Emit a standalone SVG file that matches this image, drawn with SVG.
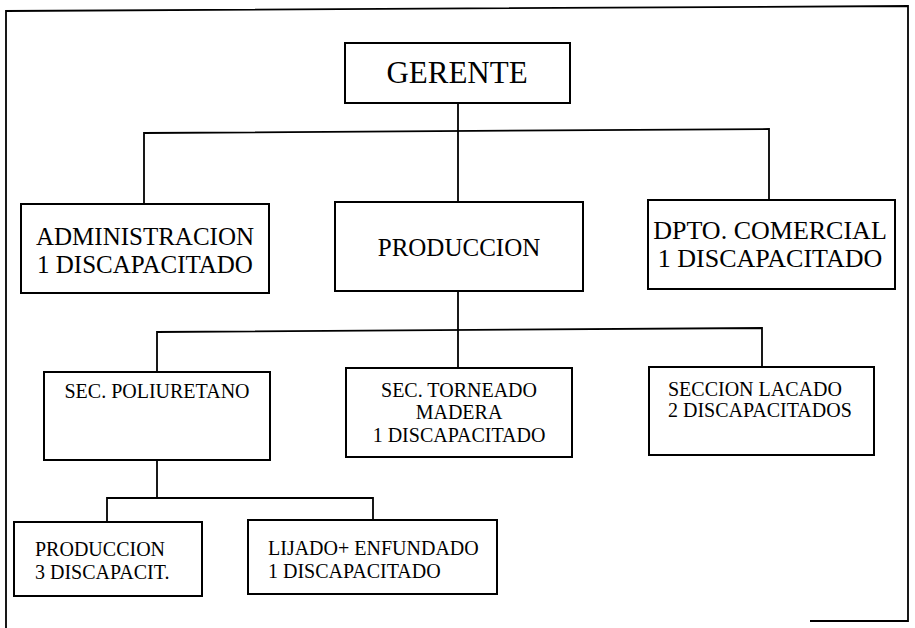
<svg xmlns="http://www.w3.org/2000/svg" width="915" height="628" viewBox="0 0 915 628">
<style>
.box{fill:#fff;stroke:#000;stroke-width:2}
.ln{fill:none;stroke:#000;stroke-width:1.8}
.c{text-anchor:middle}
.f31{font-size:31px}
.f26{font-size:26px}
.f25{font-size:25px}
.f20{font-size:20px}
</style>
<rect width="915" height="628" fill="#fff"/>
<path class="ln" d="M6,628 L6,11 L908,6 L908,621 L810,621" stroke-width="2"/>
<g id="connectors">
<path class="ln" d="M458,103 V202"/>
<path class="ln" d="M144,204 V133 L769,129 V200"/>
<path class="ln" d="M458,291 V368"/>
<path class="ln" d="M157,372 V332 L762,328 V367"/>
<path class="ln" d="M157,460 V498"/>
<path class="ln" d="M107,522 V498 H373 V520"/>
</g>
<g font-family="Liberation Serif, Times New Roman, serif" fill="#000">
<g id="gerente">
<rect class="box" x="345" y="43" width="225" height="60"/>
<text class="c f31" x="457" y="83">GERENTE</text>
</g>
<g id="administracion">
<rect class="box" x="21" y="204" width="248" height="89"/>
<text class="c f25" x="145" y="245">ADMINISTRACION</text>
<text class="c f25" x="145" y="273">1 DISCAPACITADO</text>
</g>
<g id="produccion">
<rect class="box" x="335" y="202" width="248" height="89"/>
<text class="c f25" x="459" y="256">PRODUCCION</text>
</g>
<g id="dpto-comercial">
<rect class="box" x="648" y="200" width="247" height="89"/>
<text class="c f26" x="770" y="239">DPTO. COMERCIAL</text>
<text class="c f26" x="770" y="267">1 DISCAPACITADO</text>
</g>
<g id="sec-poliuretano">
<rect class="box" x="44" y="372" width="226" height="88"/>
<text class="c f20" x="157" y="398">SEC. POLIURETANO</text>
</g>
<g id="sec-torneado">
<rect class="box" x="346" y="368" width="226" height="89"/>
<text class="c f20" x="459" y="397">SEC. TORNEADO</text>
<text class="c f20" x="459" y="419">MADERA</text>
<text class="c f20" x="459" y="442">1 DISCAPACITADO</text>
</g>
<g id="seccion-lacado">
<rect class="box" x="649" y="367" width="225" height="88"/>
<text class="f20" x="668" y="396">SECCION LACADO</text>
<text class="f20" x="668" y="417">2 DISCAPACITADOS</text>
</g>
<g id="produccion-poli">
<rect class="box" x="14" y="522" width="188" height="74"/>
<text class="f20" x="35" y="556">PRODUCCION</text>
<text class="f20" x="35" y="579">3 DISCAPACIT.</text>
</g>
<g id="lijado">
<rect class="box" x="248" y="520" width="249" height="74"/>
<text class="f20" x="268" y="555">LIJADO+ ENFUNDADO</text>
<text class="f20" x="268" y="578">1 DISCAPACITADO</text>
</g>
</g>
</svg>
